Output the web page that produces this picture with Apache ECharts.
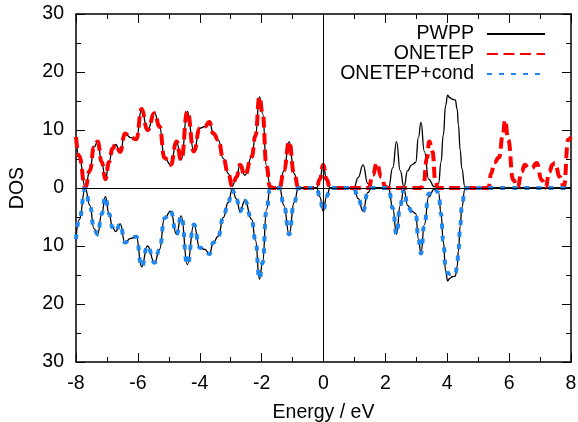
<!DOCTYPE html>
<html><head><meta charset="utf-8">
<script src="https://cdn.jsdelivr.net/npm/echarts@6/dist/echarts.min.js"></script>
<style>html,body{margin:0;padding:0;background:#fff}#c{width:578px;height:422px}</style>
</head><body><div id="c"></div>
<script>
// Values
const pwppE = [-8.0,-7.9,-7.7,-7.55,-7.42,-7.3,-7.17,-7.05,-6.93,-6.82,-6.72,-6.57,-6.42,-6.23,-6.05,-5.88,-5.69,-5.46,-5.3,-5.14,-4.94,-4.75,-4.6,-4.4,-4.19,-4.0,-3.83,-3.69,-3.56,-3.4,-3.24,-3.08,-2.95,-2.81,-2.7,-2.54,-2.32,-2.2,-2.07,-1.97,-1.84,-1.73,-1.6,-1.42,-1.28,-1.11,-0.95,-0.81,-0.22,-0.12,-0.01,0.1,0.21,
  0.98,1.12,1.28,1.43,1.56,2.1,2.24,2.36,2.48,2.6,2.72,2.85,2.98,3.07,3.15,3.26,3.4,3.58,3.72,3.8,3.87,3.95,4.01,4.08,4.16,4.26,4.32,4.36,4.42,4.47,4.57,4.66,6.0,8.0];
const pwppDos = [8.8,5.5,0.1,3.0,7.0,8.0,4.5,1.5,4.5,6.8,7.5,6.2,9.4,8.7,8.4,13.6,10.0,12.9,10.6,5.2,4.0,8.0,4.8,13.2,6.3,10.3,10.6,11.4,9.4,8.3,5.1,2.5,0.3,1.9,4.0,2.2,5.4,9.0,15.7,12.9,3.7,0.2,0,0,3.0,8.0,2.5,0,0,1.5,4.0,1.5,0,
  0,1.8,4.0,0.8,0,0,3.5,8.0,3.0,0.2,3.0,4.0,4.4,8.8,11.3,6.3,1.5,0.2,0.8,4.5,9.1,14.3,16.0,15.6,15.3,15.2,13.6,10.9,6.5,3.4,0.2,0,0,0];

const onetepE = [-8.0,-7.9,-7.7,-7.55,-7.42,-7.3,-7.17,-7.05,-6.93,-6.82,-6.72,-6.57,-6.42,-6.23,-6.05,-5.88,-5.69,-5.46,-5.3,-5.14,-4.94,-4.75,-4.6,-4.4,-4.19,-4.0,-3.83,-3.69,-3.56,-3.4,-3.24,-3.08,-2.95,-2.81,-2.7,-2.54,-2.32,-2.2,-2.07,-1.97,-1.84,-1.73,-1.6,-1.42,-1.28,-1.11,-0.95,-0.81,-0.22,-0.12,-0.01,0.1,0.21,
  1.45,1.6,1.72,1.87,2.0,2.08,3.15,3.23,3.34,3.42,3.52,3.62,3.7,5.33,5.42,5.52,5.68,5.79,5.87,5.97,6.13,6.28,6.4,6.51,6.62,6.73,6.89,7.05,7.18,7.3,7.4,7.48,7.64,7.77,7.91,8.0];
const onetepDos = [8.8,5.5,0.1,3.0,7.0,8.0,4.5,1.5,4.5,6.8,7.5,6.2,9.4,8.7,8.4,13.6,10.0,12.9,10.6,5.2,4.0,8.0,4.8,13.2,6.3,10.3,10.6,11.4,9.4,8.3,5.1,2.5,0.3,1.9,4.0,2.2,5.4,9.0,15.7,12.9,3.7,0.2,0,0,3.0,8.0,2.5,0,0,1.5,4.0,1.5,0,
  0,2.3,4.3,1.9,0.2,0,0,0.5,5.1,8.0,6.3,1.1,0,0,2.5,4.4,5.3,9.0,11.7,8.3,1.4,0.1,2.8,4.0,3.5,3.4,4.3,1.4,0.1,2.8,4.0,4.3,1.9,0.2,8.3,8.8];

const condE = pwppE;
const condDos = [8.8,5.5,0.1,3.0,7.0,8.0,4.5,1.5,4.5,6.8,7.5,6.2,9.4,8.7,8.4,13.6,10.0,12.9,10.6,5.2,4.0,8.0,4.8,13.2,6.3,10.3,10.6,11.4,9.4,8.3,5.1,2.5,0.3,1.9,4.0,2.2,5.4,9.0,15.7,12.9,3.7,0.2,0,0,3.0,8.0,2.5,0,0,1.5,4.0,1.5,0,
  0,1.8,4.0,0.8,0,0,3.5,8.0,3.0,0.2,3.0,4.0,4.4,8.8,11.3,6.3,1.0,0.1,0.8,4.5,9.1,13.8,14.6,14.8,14.7,14.9,13.5,10.9,6.5,3.4,0.2,0,0,0];

const xTicks = [-8,-6,-4,-2,0,2,4,6,8];
const yTicks = [-30,-20,-10,0,10,20,30];

const up = (E, D) => E.map((e, i) => [e, D[i]]);
const down = (E, D) => E.map((e, i) => [e, -D[i]]);

const FONT = 'Liberation Sans';
const FS = 19.5;
const chart = echarts.init(document.getElementById('c'), null, {renderer: 'canvas'});
const tickX = {show: true, inside: true, length: 9, lineStyle: {color: '#000', width: 1}};
const minorX = {show: true, splitNumber: 2, length: 5, lineStyle: {color: '#000', width: 1}};
const axLine = {show: true, onZero: false, lineStyle: {color: '#000', width: 1.5}};
const xBase = {type: 'value', min: xTicks[0], max: xTicks[xTicks.length - 1], interval: 2,
  axisLine: axLine, axisTick: tickX, minorTick: minorX, splitLine: {show: false}, minorSplitLine: {show: false}};
const yBase = {type: 'value', min: yTicks[0], max: yTicks[yTicks.length - 1], interval: 10,
  axisLine: axLine, axisTick: tickX, minorTick: minorX, splitLine: {show: false}, minorSplitLine: {show: false}};
const SM = 0.5;

chart.setOption({
  animation: false,
  backgroundColor: '#fff',
  textStyle: {fontFamily: FONT},
  grid: {left: 76, right: 7, top: 14, bottom: 60, containLabel: false, outerBoundsMode: 'none'},
  legend: {
    data: ['PWPP', 'ONETEP', 'ONETEP+cond'],
    orient: 'vertical', align: 'right', right: 32, top: 24, padding: 0,
    itemWidth: 58, itemHeight: 14, itemGap: 0,
    itemStyle: {opacity: 0},
    textStyle: {fontFamily: FONT, fontSize: FS, lineHeight: 20, color: '#000', padding: [0, 8, 0, 0]}
  },
  xAxis: [
    Object.assign({}, xBase, {position: 'bottom', name: 'Energy / eV', nameLocation: 'middle', nameGap: 41,
      nameTextStyle: {fontFamily: FONT, fontSize: FS, color: '#000'},
      axisLabel: {show: true, margin: 12, fontFamily: FONT, fontSize: FS, color: '#000'}}),
    Object.assign({}, xBase, {position: 'top', axisLabel: {show: false}})
  ],
  yAxis: [
    Object.assign({}, yBase, {position: 'left', name: 'DOS', nameLocation: 'middle', nameGap: 48,
      nameTextStyle: {fontFamily: FONT, fontSize: FS, color: '#000'},
      axisLabel: {show: true, margin: 12, fontFamily: FONT, fontSize: FS, color: '#000',
        formatter: v => String(Math.abs(v))}}),
    Object.assign({}, yBase, {position: 'right', axisLabel: {show: false}})
  ],
  series: [
    {name: 'PWPP', type: 'line', data: up(pwppE, pwppDos), symbol: 'none', smooth: SM, smoothMonotone: 'x',
      color: '#000', lineStyle: {color: '#000', width: 1.3}, z: 2,
      markLine: {silent: true, symbol: ['none', 'none'], label: {show: false},
        lineStyle: {color: '#000', width: 1, type: 'solid'}, data: [{yAxis: 0}, {xAxis: 0}]}},
    {name: 'PWPP', type: 'line', data: down(pwppE, pwppDos), symbol: 'none', smooth: SM, smoothMonotone: 'x',
      color: '#000', lineStyle: {color: '#000', width: 1.3}, z: 2},
    {name: 'ONETEP', type: 'line', data: up(onetepE, onetepDos), symbol: 'none', smooth: SM, smoothMonotone: 'x',
      color: '#ff0000', lineStyle: {color: '#ff0000', width: 4, type: [11, 5.5], cap: 'butt'}, z: 3},
    {name: 'ONETEP+cond', type: 'line', data: down(condE, condDos), symbol: 'none', smooth: SM, smoothMonotone: 'x',
      color: '#1e88f0', lineStyle: {color: '#1e88f0', width: 4, type: [5, 7], cap: 'butt'}, z: 4}
  ]
});
</script>
</body></html>
